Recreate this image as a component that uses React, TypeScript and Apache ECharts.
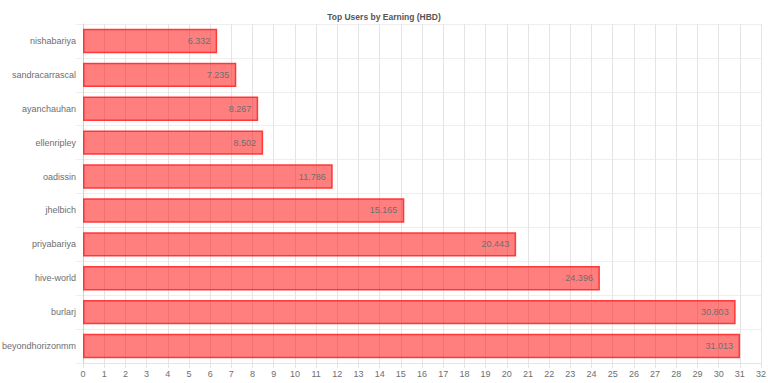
import React, { useEffect, useRef } from "react";
import * as echarts from "echarts";

const users = [
  "nishabariya",
  "sandracarrascal",
  "ayanchauhan",
  "ellenripley",
  "oadissin",
  "jhelbich",
  "priyabariya",
  "hive-world",
  "burlarj",
  "beyondhorizonmm",
];
const earnings = [6.332, 7.235, 8.267, 8.502, 11.786, 15.165, 20.443, 24.396, 30.803, 31.013];
const xMin = 0;
const xMax = 32;
const xStep = 1;

const FONT = "'Liberation Sans', Arial, Helvetica, sans-serif";
const TXT = "#6e6e6e";

export default function App() {
  const ref = useRef<HTMLDivElement>(null);
  useEffect(() => {
    if (!ref.current) return;
    const chart = echarts.init(ref.current, undefined, { renderer: "svg" });
    chart.setOption({
      animation: false,
      title: {
        text: "Top Users by Earning (HBD)",
        left: "center",
        top: 7,
        textStyle: { fontSize: 8.5, fontWeight: "bold", color: "#555", fontFamily: FONT },
      },
      grid: { left: 83, right: 7, top: 24, bottom: 20, containLabel: false, outerBoundsMode: "none" },
      xAxis: {
        type: "value",
        min: xMin,
        max: xMax,
        interval: xStep,
        axisLine: { show: true, lineStyle: { color: "#e4e4e4" } },
        axisTick: { show: true, length: 5, lineStyle: { color: "#e4e4e4" } },
        axisLabel: { color: TXT, fontSize: 9, fontFamily: FONT, margin: 6 },
        splitLine: { show: true, lineStyle: { color: "#e4e4e4" } },
      },
      yAxis: {
        type: "category",
        data: users,
        inverse: true,
        axisLine: { show: true, lineStyle: { color: "#d0d0d0" } },
        axisTick: { show: true, length: 7, lineStyle: { color: "#eeeeee" } },
        axisLabel: { color: TXT, fontSize: 9, fontFamily: FONT, margin: 7 },
        splitLine: { show: true, lineStyle: { color: "#eeeeee" } },
      },
      series: [
        {
          type: "bar",
          data: earnings,
          barCategoryGap: "28%",
          itemStyle: {
            color: "rgba(255,0,0,0.5)",
            borderColor: "rgba(255,40,40,0.9)",
            borderWidth: 1.5,
          },
          label: {
            show: true,
            position: "insideRight",
            distance: 7,
            color: TXT,
            fontSize: 9,
            fontFamily: FONT,
            formatter: (p: any) => String(p.value),
          },
        },
      ],
    });
    return () => chart.dispose();
  }, []);
  return <div ref={ref} style={{ width: 768, height: 383, position: "absolute", left: 0, top: 0 }} />;
}
